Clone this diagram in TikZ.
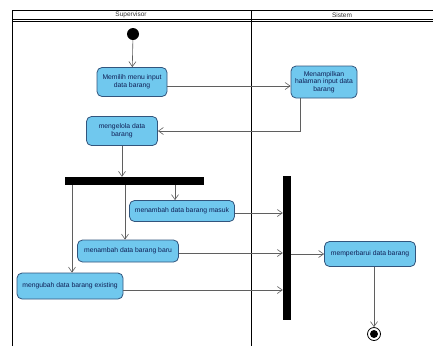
\documentclass[tikz,border=0pt]{standalone}
\usepackage{fontspec}
\setmainfont{Liberation Sans}
\usetikzlibrary{arrows.meta}
\definecolor{actfill}{RGB}{112,200,238}
\definecolor{actdraw}{RGB}{50,85,125}
\definecolor{acttext}{RGB}{15,30,85}
\definecolor{flow}{RGB}{95,95,95}
\tikzset{
  action/.style={draw=actdraw, fill=actfill, rounded corners=5pt, line width=0.8pt,
    text=acttext, font=\fontsize{6.8}{7.6}\selectfont, align=center, inner sep=1pt},
  flowline/.style={draw=flow, line width=0.6pt, -{Straight Barb[length=5pt,width=7pt]}},
  bar/.style={fill=black, draw=none, inner sep=0pt},
  lane/.style={draw=black, line width=1pt},
  lanetitle/.style={font=\fontsize{6.5}{7.5}\selectfont, text=black!80},
}
\begin{document}
\begin{tikzpicture}[x=1pt,y=-1pt]
\useasboundingbox (0,0) rectangle (433,346);
\fill[white] (0,0) rectangle (433,346);

% swimlane frame
\draw[lane] (12,346) -- (12,10) -- (440,10);
\draw[lane] (12,19) -- (440,19);
\draw[black, line width=0.5pt] (12,21) -- (440,21);
\draw[lane] (251,10) -- (251,346);
\node[lanetitle] (laneA) at (131,15) {Supervisor};
\node[lanetitle] (laneB) at (342,15) {Sistem};

% initial and final nodes
\node[circle, fill=black, minimum size=12pt, inner sep=0pt] (start) at (133,34) {};
\node[circle, draw=black, line width=0.8pt, minimum size=13pt, inner sep=0pt] (endo) at (374,334) {};
\node[circle, fill=black, minimum size=8pt, inner sep=0pt] (endi) at (374,334) {};

% actions
\node[action, minimum width=70pt, minimum height=29pt] (a1) at (132,82) {Memilih menu input\\data barang};
\node[action, minimum width=66pt, minimum height=32pt] (a2) at (324,82) {Menampilkan\\halaman input data\\barang};
\node[action, minimum width=71pt, minimum height=29pt] (a3) at (122,131) {mengelola data\\barang};
\node[action, minimum width=105pt, minimum height=21pt] (a4) at (182,211) {menambah data barang masuk};
\node[action, minimum width=101pt, minimum height=22pt] (a5) at (128,251) {menambah data barang baru};
\node[action, minimum width=106pt, minimum height=26pt] (a6) at (70,286) {mengubah data barang existing};
\node[action, minimum width=91pt, minimum height=25pt] (a7) at (370,254) {memperbarui data barang};

% fork and join bars
\node[bar, minimum width=139pt, minimum height=8pt] (fork) at (134.5,181) {};
\node[bar, minimum width=8pt, minimum height=144pt] (join) at (287,248) {};

% flows
\draw[flowline] (start) -- (a1);
\draw[flowline] (a1.east |- 0,86) -- (a2.west |- 0,86);
\draw[flowline] (a2.south -| 300,0) |- (a3.east);
\draw[flowline] (a3) -- (fork.north -| a3);
\draw[flowline] (fork.south -| 175,0) -- (a4.north -| 175,0);
\draw[flowline] (fork.south -| 125,0) -- (a5.north -| 125,0);
\draw[flowline] (fork.south -| 72,0) -- (a6.north -| 72,0);
\draw[flowline] (a4.east |- 0,213) -- (join.west |- 0,213);
\draw[flowline] (a5.east |- 0,253) -- (join.west |- 0,253);
\draw[flowline] (a6.east |- 0,290) -- (join.west |- 0,290);
\draw[flowline] (join.east |- a7) -- (a7.west);
\draw[flowline] (a7.south -| endo) -- (endo.north);
\end{tikzpicture}
\end{document}
